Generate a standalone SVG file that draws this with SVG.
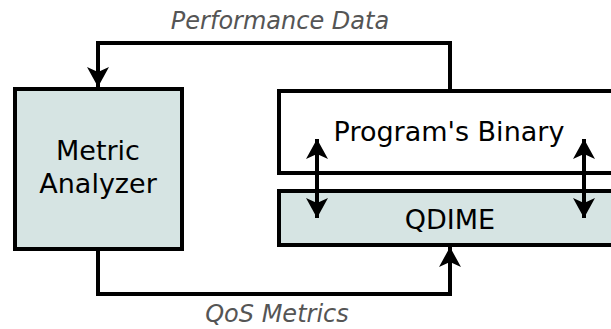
<svg xmlns="http://www.w3.org/2000/svg" width="611" height="329" viewBox="0 0 611 329">
<style>
.box{stroke:#000;stroke-width:4}
.fill{fill:#d6e4e3}
.white{fill:#fff}
.t{font-family:"DejaVu Sans",sans-serif;font-size:27px;fill:#000;text-anchor:middle}
.lbl{font-family:"DejaVu Sans",sans-serif;font-size:24px;font-style:italic;fill:#555;text-anchor:middle}
.c{fill:none;stroke:#000;stroke-width:4}
</style>
<defs>
<marker id="ah" viewBox="0 0 20 22" refX="20" refY="11" markerWidth="20" markerHeight="22" markerUnits="userSpaceOnUse" orient="auto-start-reverse">
<path d="M0,0 L20,11 L0,22 L5,11 Z" fill="#000"/>
</marker>
</defs>
<g id="metric-analyzer">
<rect class="box fill" x="15" y="89" width="167" height="160"/>
<text class="t" x="98" y="160">Metric</text>
<text class="t" x="98" y="193">Analyzer</text>
</g>
<g id="programs-binary">
<rect class="box white" x="279" y="91" width="400" height="82"/>
<text class="t" x="449" y="141">Program's Binary</text>
</g>
<g id="qdime">
<rect class="box fill" x="279" y="191" width="400" height="54"/>
<text class="t" x="450" y="229">QDIME</text>
</g>
<g id="connectors">
<path class="c" d="M450,91 V43 H98 V87" marker-end="url(#ah)"/>
<path class="c" d="M98,251 V294 H450 V247" marker-end="url(#ah)"/>
<path class="c" d="M317,139 V218" marker-start="url(#ah)" marker-end="url(#ah)"/>
<path class="c" d="M584,139 V218" marker-start="url(#ah)" marker-end="url(#ah)"/>
</g>
<text class="lbl" x="280" y="29">Performance Data</text>
<text class="lbl" x="277" y="322">QoS Metrics</text>
</svg>
